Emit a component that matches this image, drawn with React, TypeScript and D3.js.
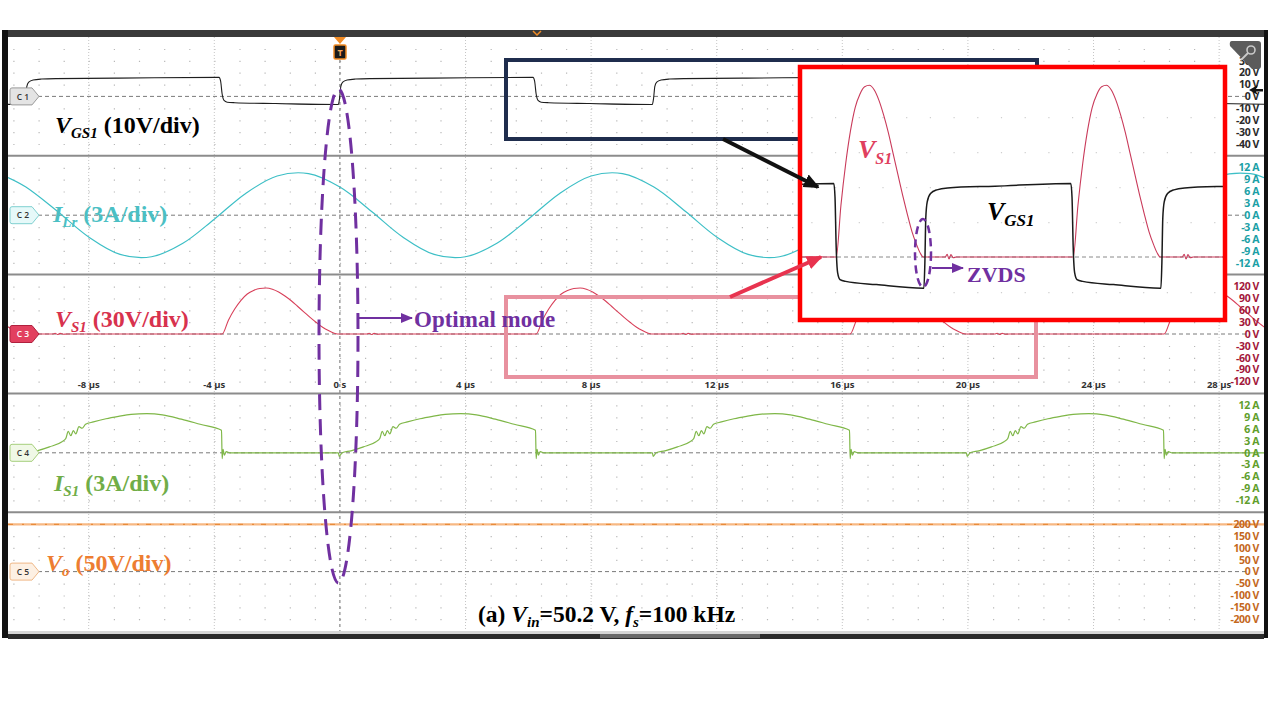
import React from "react";
import * as d3 from "d3";

const W = 1280;
const H = 720;

const PLOT_L = 8;
const PLOT_R = 1264;
const PLOT_T = 37;
const PANEL_H = 118.8;
const N_PANELS = 5;
const PLOT_B = PLOT_T + PANEL_H * N_PANELS;

// time axis (µs)
const TIME_DOMAIN: [number, number] = [-10.57, 29.43];
const TIME_TICKS = [-8, -4, 0, 4, 8, 12, 16, 20, 24, 28];
const TIME_TICK_LABELS = ["-8 µs", "-4 µs", "0 s", "4 µs", "8 µs", "12 µs", "16 µs", "20 µs", "24 µs", "28 µs"];

// channels
const CHANNELS = ["C 1", "C 2", "C 3", "C 4", "C 5"];
const CH_PER_DIV = [10, 3, 30, 3, 50];
const CH_UNITS = ["V", "A", "V", "A", "V"];
const CH_TICKS = [
  [40, 30, 20, 10, 0, -10, -20, -30, -40],
  [12, 9, 6, 3, 0, -3, -6, -9, -12],
  [120, 90, 60, 30, 0, -30, -60, -90, -120],
  [12, 9, 6, 3, 0, -3, -6, -9, -12],
  [200, 150, 100, 50, 0, -50, -100, -150, -200],
];

// gate rising-edge instants (µs), switching period 10 µs
const GATE_RISE_TIMES = [-20.05, -10.05, -0.05, 9.95, 19.95];

// one period of each switched waveform, [time after gate rise (µs), value]
const VGS_PERIOD: [number, number][] = [
  [0, -6.8], [0.04, -1.5], [0.08, 8.5], [0.14, 12.0], [0.28, 13.8], [0.55, 14.6], [1.0, 15.0],
  [3.0, 15.4], [6.2, 16.0], [6.25, 13.0], [6.3, 2.0], [6.36, -3.4], [6.46, -4.9], [6.7, -5.3],
  [8.0, -6.0], [9.97, -6.8],
];
const VS1_PERIOD: [number, number][] = [
  [0.02, 0], [0.9, 0], [0.98, 1.8], [1.06, -1.3], [1.14, 1.6], [1.24, -0.5], [1.36, 0], [6.3, 0],
  [6.5, 35], [6.7, 63], [6.9, 85], [7.1, 101], [7.3, 110], [7.5, 115], [7.7, 116], [7.9, 113],
  [8.1, 106], [8.3, 96], [8.5, 84], [8.7, 70], [8.9, 56], [9.1, 42], [9.3, 29], [9.5, 17],
  [9.7, 8], [9.85, 2.5], [9.97, 0],
];
const IS1_PERIOD: [number, number][] = [
  [0, 0], [0.03, -0.9], [0.12, 0], [0.4, 0.5], [0.8, 1.5], [1.2, 2.8], [1.32, 3.6], [1.4, 5.4],
  [1.48, 4.3], [1.56, 5.6], [1.64, 4.8], [1.74, 6.6], [1.84, 6.2], [1.95, 7.2], [2.2, 7.8],
  [2.6, 8.6], [3.0, 9.2], [3.4, 9.7], [3.9, 9.9], [4.4, 9.6], [5.0, 8.5], [5.6, 7.2], [6.28, 5.7],
  [6.3, -1.5], [6.33, 0.9], [6.37, -0.6], [6.43, 0.3], [6.55, 0], [9.97, 0],
];

// resonant inductor current samples
const ILR_TIMES = [
  -10.57, -10, -9, -8, -7, -6, -5, -4, -3, -2, -1, 0, 1, 2, 3, 4, 5, 6, 7, 8, 9, 10, 11, 12, 13,
  14, 15, 16, 17, 18, 19, 20, 21, 22, 23, 24, 25, 26, 27, 28, 29, 29.43,
];
const ILR_VALUES = [
  9.5,
  7.1, 1.0, -5.5, -9.9, -10.5, -7.1, -1.0, 5.5, 9.9, 10.5,
  7.1, 1.0, -5.5, -9.9, -10.5, -7.1, -1.0, 5.5, 9.9, 10.5,
  7.1, 1.0, -5.5, -9.9, -10.5, -7.1, -1.0, 5.5, 9.9, 10.5,
  7.1, 1.0, -5.5, -9.9, -10.5, -7.1, -1.0, 5.5, 9.9, 10.5,
  9.5,
];

// output voltage
const VO_TIMES = [-10.57, 29.43];
const VO_VALUES = [199, 199];

// zoomed inset window (µs)
const INSET_DOMAIN: [number, number] = [4.807, 22.57];

const SERIF = "'Liberation Serif', 'Times New Roman', serif";
const SANS = "'Open Sans', 'DejaVu Sans', sans-serif";
const PURPLE = "#7030a0";

function buildPeriodic(period: [number, number][], rises: number[]): [number, number][] {
  const pts: [number, number][] = [];
  rises.forEach((r) => period.forEach(([dt, v]) => pts.push([r + dt, v])));
  pts.sort((a, b) => a[0] - b[0]);
  return pts.filter((p) => p[0] >= TIME_DOMAIN[0] - 2 && p[0] <= TIME_DOMAIN[1] + 2);
}

function Sub({ x, y, main, sub, size, subSize, fill, rest }: any) {
  return (
    <text x={x} y={y} fontFamily={SERIF} fontWeight="bold" fontSize={size} fill={fill}>
      <tspan fontStyle="italic">{main}</tspan>
      <tspan fontStyle="italic" fontSize={subSize} dy={size * 0.22}>{sub}</tspan>
      {rest ? <tspan dy={-size * 0.22}>{rest}</tspan> : null}
    </text>
  );
}

export default function App() {
  const x = d3.scaleLinear().domain(TIME_DOMAIN).range([PLOT_L, PLOT_R]);
  const yS = CH_PER_DIV.map((d, i) =>
    d3.scaleLinear().domain([-5 * d, 5 * d]).range([PLOT_T + (i + 1) * PANEL_H, PLOT_T + i * PANEL_H])
  );
  const center = (i: number) => PLOT_T + (i + 0.5) * PANEL_H;

  const vgs = buildPeriodic(VGS_PERIOD, GATE_RISE_TIMES);
  const vs1 = buildPeriodic(VS1_PERIOD, GATE_RISE_TIMES);
  const is1 = buildPeriodic(IS1_PERIOD, GATE_RISE_TIMES);
  const ilr: [number, number][] = ILR_TIMES.map((t, i) => [t, ILR_VALUES[i]]);
  const vo: [number, number][] = VO_TIMES.map((t, i) => [t, VO_VALUES[i]]);

  const mk = (ys: d3.ScaleLinear<number, number>, curve: any, xs = x) =>
    d3.line<[number, number]>().x((d) => xs(d[0])).y((d) => ys(d[1])).curve(curve);

  // dot grid
  const minorTs = d3.range(-3, 47).map((k) => -8 + k * 0.8);
  let dots = "";
  for (let i = 0; i < N_PANELS; i++) {
    for (let k = -4; k <= 4; k++) {
      if (k === 0) continue;
      const yy = center(i) + (k * PANEL_H) / 10;
      minorTs.forEach((t) => {
        const xx = x(t);
        dots += `M${xx.toFixed(1)},${yy.toFixed(1)}h1.2v1.2h-1.2z`;
      });
    }
  }

  // inset
  const IN_L = 802, IN_R = 1223, IN_T = 69, IN_B = 318, IN_ZERO = 257;
  const xi = d3.scaleLinear().domain(INSET_DOMAIN).range([IN_L, IN_R]);
  const yiG = d3.scaleLinear().domain([0, 10]).range([IN_ZERO, IN_ZERO - 46]);
  const yiS = d3.scaleLinear().domain([0, 100]).range([IN_ZERO, IN_ZERO - 148]);
  let insetDots = "";
  d3.range(-1, 18).forEach((k) => {
    const xx = xi(6.2 + k);
    if (xx < IN_L + 2 || xx > IN_R - 2) return;
    [-4, -3, -2, -1, 1, 2].forEach((j) => {
      const yy = IN_ZERO + j * 35;
      if (yy < IN_T + 3 || yy > IN_B - 3) return;
      insetDots += `M${xx.toFixed(1)},${yy}h1.2v1.2h-1.2z`;
    });
  });

  const tagStyles = [
    { fill: "#e4e4e4", stroke: "#9a9a9a", text: "#333" },
    { fill: "#e6f9f9", stroke: "#7fd0d0", text: "#333" },
    { fill: "#e2405f", stroke: "#b0203e", text: "#fff" },
    { fill: "#f0f8e6", stroke: "#a6cf7c", text: "#333" },
    { fill: "#fdf0e3", stroke: "#f0b887", text: "#333" },
  ];
  const tickColors = ["#2a2a2a", "#1a9fa6", "#a3173a", "#5f9e2c", "#c4681c"];

  return (
    <svg
      width={W}
      height={H}
      viewBox={`0 0 ${W} ${H}`}
      style={{ position: "absolute", left: 0, top: 0, background: "#fff" }}
    >
      <defs>
        <clipPath id="plotClip">
          <rect x={PLOT_L} y={PLOT_T} width={PLOT_R - PLOT_L} height={PLOT_B - PLOT_T} />
        </clipPath>
        <clipPath id="insetClip">
          <rect x={IN_L} y={IN_T} width={IN_R - IN_L} height={IN_B - IN_T} />
        </clipPath>
        <marker id="arrBlack" markerUnits="userSpaceOnUse" markerWidth={16} markerHeight={14} refX={14} refY={7} orient="auto">
          <path d="M0,0 L16,7 L0,14 z" fill="#111" />
        </marker>
        <marker id="arrRed" markerUnits="userSpaceOnUse" markerWidth={16} markerHeight={14} refX={14} refY={7} orient="auto">
          <path d="M0,0 L16,7 L0,14 z" fill="#e8334f" />
        </marker>
        <marker id="arrPurple" markerUnits="userSpaceOnUse" markerWidth={12} markerHeight={10} refX={11} refY={5} orient="auto">
          <path d="M0,0 L12,5 L0,10 z" fill={PURPLE} />
        </marker>
      </defs>

      <rect x={0} y={0} width={W} height={H} fill="#fff" />

      {/* scope frame */}
      <rect x={2} y={30} width={6} height={608} fill="#111" />
      <rect x={1264} y={30} width={4} height={608} fill="#111" />
      <rect x={PLOT_L} y={30} width={PLOT_R - PLOT_L} height={7} fill="#3a3a3a" />
      <rect x={PLOT_L} y={PLOT_B} width={PLOT_R - PLOT_L} height={3} fill="#d6d6d6" />
      <rect x={PLOT_L} y={PLOT_B + 3} width={PLOT_R - PLOT_L} height={5} fill="#2b2b2b" />
      <rect x={600} y={PLOT_B + 3} width={160} height={4} fill="#6a6a6a" />
      <path d="M533,31 l4,4 l4,-4" fill="none" stroke="#f08a24" strokeWidth={1.5} />

      {/* grid */}
      <path d={dots} fill="#b8b8b8" />
      {TIME_TICKS.filter((t) => t !== 0).map((t) => (
        <line key={t} x1={x(t)} x2={x(t)} y1={PLOT_T} y2={PLOT_B} stroke="#c6c6c6" strokeDasharray="1 2" />
      ))}
      <line x1={x(0)} x2={x(0)} y1={60} y2={PLOT_B} stroke="#6e6e6e" strokeDasharray="3 3" />

      {/* reference lines */}
      {CHANNELS.map((c, i) => (
        <line key={c} x1={38} x2={1248} y1={center(i)} y2={center(i)} stroke="#7a7a7a" strokeDasharray="4 3" />
      ))}

      {/* separators */}
      {[1, 2, 3, 4].map((i) => (
        <line key={i} x1={PLOT_L} x2={PLOT_R} y1={PLOT_T + i * PANEL_H} y2={PLOT_T + i * PANEL_H} stroke="#8c8c8c" strokeWidth={2} />
      ))}

      {/* traces */}
      <g clipPath="url(#plotClip)" fill="none">
        <path d={mk(yS[4], d3.curveLinear)(vo) || ""} stroke="#f7b883" strokeWidth={2.2} />
        <path d={mk(yS[4], d3.curveLinear)(vo) || ""} stroke="#e5822c" strokeWidth={1} strokeDasharray="5 9 2 7" />
        <path d={mk(yS[3], d3.curveMonotoneX)(is1) || ""} stroke="#7fb748" strokeWidth={1.2} />
        <path d={mk(yS[2], d3.curveMonotoneX)(vs1) || ""} stroke="#d8405a" strokeWidth={1.1} />
        <path d={mk(yS[1], d3.curveCatmullRom)(ilr) || ""} stroke="#3dbfc6" strokeWidth={1.2} />
        <path d={mk(yS[0], d3.curveMonotoneX)(vgs) || ""} stroke="#1e1e1e" strokeWidth={1.1} />
      </g>

      {/* time labels */}
      {TIME_TICKS.map((t, i) => (
        <text key={t} x={x(t)} y={388} textAnchor="middle" fontFamily={SANS} fontWeight={700} fontSize={9.5} fill="#333">
          {TIME_TICK_LABELS[i]}
        </text>
      ))}

      {/* right scale labels */}
      {CH_TICKS.map((ticks, i) =>
        ticks.map((v) => (
          <text
            key={`${i}-${v}`}
            x={1259}
            y={yS[i](v) + 3.8}
            textAnchor="end"
            fontFamily={SANS}
            fontWeight={700}
            fontSize={10.5}
            letterSpacing={-0.4}
            fill={tickColors[i]}
          >
            {`${v} ${CH_UNITS[i]}`}
          </text>
        ))
      )}

      {/* scope icon */}
      <path d="M1232,41 H1258 Q1261,41 1261,44 V66 Q1261,69 1258,69 H1252 L1230,46 Q1229,41 1232,41 z" fill="#5b5b5b" />
      <circle cx={1251} cy={50} r={4} fill="none" stroke="#c9c9c9" strokeWidth={1.6} />
      <line x1={1248} y1={53} x2={1241} y2={60} stroke="#c9c9c9" strokeWidth={1.8} />
      <path d="M1249,90 L1258,85 L1256,89 L1263,89 L1263,91.5 L1256,91.5 L1258,95 z" fill="#111" />

      {/* channel tags */}
      {CHANNELS.map((c, i) => {
        const cy = center(i);
        const s = tagStyles[i];
        return (
          <g key={c}>
            <path
              d={`M12,${cy - 8.5} H32 L39,${cy} L32,${cy + 8.5} H12 Q10,${cy + 8.5} 10,${cy + 6.5} V${cy - 6.5} Q10,${cy - 8.5} 12,${cy - 8.5} z`}
              fill={s.fill}
              stroke={s.stroke}
              strokeWidth={1}
            />
            <text x={23} y={cy + 3.2} textAnchor="middle" fontFamily={SANS} fontSize={8.5} fontWeight={600} fill={s.text}>
              {c}
            </text>
          </g>
        );
      })}

      {/* trigger marker */}
      <path d="M334,37 H346 L340,44 z" fill="#f08a24" />
      <rect x={334} y={45} width={12} height={14} rx={1.5} fill="#1a1a1a" stroke="#f08a24" strokeWidth={1.5} />
      <text x={340} y={56} textAnchor="middle" fontFamily={SANS} fontWeight={700} fontSize={9} fill="#f6a65a">T</text>

      {/* channel labels */}
      <Sub x={55} y={133} main="V" sub="GS1" size={24} subSize={15} fill="#000" rest=" (10V/div)" />
      <Sub x={53} y={222} main="I" sub="Lr" size={24} subSize={15} fill="#4bbfc4" rest=" (3A/div)" />
      <Sub x={55} y={327} main="V" sub="S1" size={24} subSize={15} fill="#d8324e" rest=" (30V/div)" />
      <Sub x={54} y={491} main="I" sub="S1" size={24} subSize={15} fill="#70ad47" rest=" (3A/div)" />
      <Sub x={46} y={571} main="V" sub="o" size={24} subSize={15} fill="#ed7d31" rest=" (50V/div)" />

      {/* highlight boxes */}
      <rect x={506} y={60} width={531} height={79} fill="none" stroke="#1f2d4d" strokeWidth={4} />
      <rect x={506} y={297} width={530} height={80} fill="none" stroke="#e8919f" strokeWidth={4} />

      {/* inset */}
      <rect x={800} y={67} width={425} height={253} fill="#fff" />
      <path d={insetDots} fill="#cfcfcf" />
      <line x1={IN_L} x2={IN_R} y1={IN_ZERO} y2={IN_ZERO} stroke="#8a8a8a" strokeDasharray="4 3" />
      <g clipPath="url(#insetClip)" fill="none">
        <path d={mk(yiS, d3.curveMonotoneX, xi)(vs1) || ""} stroke="#c93a5a" strokeWidth={1.1} />
        <path d={mk(yiG, d3.curveMonotoneX, xi)(vgs) || ""} stroke="#1a1a1a" strokeWidth={1.5} />
      </g>
      <rect x={800} y={67} width={425} height={253} fill="none" stroke="#ff0000" strokeWidth={4.5} />
      <Sub x={858} y={158} main="V" sub="S1" size={26} subSize={16} fill="#e0405e" />
      <Sub x={987} y={220} main="V" sub="GS1" size={26} subSize={17} fill="#000" />
      <ellipse cx={923} cy={253} rx={8} ry={34} fill="none" stroke={PURPLE} strokeWidth={2.5} strokeDasharray="8 5" />
      <line x1={932} y1={268} x2={963} y2={268} stroke={PURPLE} strokeWidth={2} markerEnd="url(#arrPurple)" />
      <text x={967} y={282} fontFamily={SERIF} fontWeight="bold" fontSize={22} fill={PURPLE}>ZVDS</text>

      {/* pointer arrows */}
      <line x1={723} y1={139} x2={818} y2={187} stroke="#111" strokeWidth={4} markerEnd="url(#arrBlack)" />
      <line x1={730} y1={297} x2={821} y2={257} stroke="#e8334f" strokeWidth={4} markerEnd="url(#arrRed)" />

      {/* optimal mode annotation */}
      <ellipse cx={338.5} cy={336} rx={19.5} ry={247} fill="none" stroke={PURPLE} strokeWidth={3} strokeDasharray="16 9" />
      <line x1={358} y1={318} x2={412} y2={318} stroke={PURPLE} strokeWidth={2} markerEnd="url(#arrPurple)" />
      <text x={414} y={327} fontFamily={SERIF} fontWeight="bold" fontSize={23} fill={PURPLE}>Optimal mode</text>

      {/* caption */}
      <text x={478} y={622} fontFamily={SERIF} fontWeight="bold" fontSize={23.5} fill="#000">
        <tspan>(a) </tspan>
        <tspan fontStyle="italic">V</tspan>
        <tspan fontStyle="italic" fontSize={15} dy={5}>in</tspan>
        <tspan dy={-5}>=50.2 V, </tspan>
        <tspan fontStyle="italic">f</tspan>
        <tspan fontStyle="italic" fontSize={15} dy={5}>s</tspan>
        <tspan dy={-5}>=100 kHz</tspan>
      </text>
    </svg>
  );
}
